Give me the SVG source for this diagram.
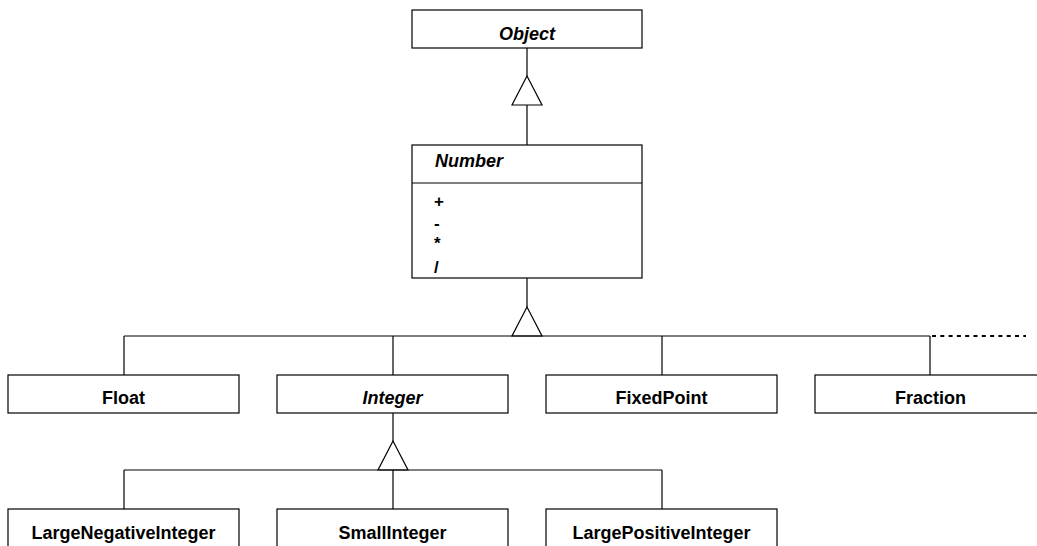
<svg xmlns="http://www.w3.org/2000/svg" width="1037" height="546" viewBox="0 0 1037 546">
<style>
.box{fill:#fff;stroke:#000;stroke-width:1.2}
.ln{fill:none;stroke:#000;stroke-width:1.2}
.dot{fill:none;stroke:#000;stroke-width:2;stroke-dasharray:4,4.3}
.tri{fill:#fff;stroke:#000;stroke-width:1.2}
.t{font-family:"Liberation Sans",Arial,sans-serif;font-size:18px;font-weight:bold;fill:#000;text-anchor:middle}
.i{font-style:italic}
.op{font-family:"Liberation Sans",Arial,sans-serif;font-size:17px;font-weight:bold;fill:#000}
</style>
<rect width="1037" height="546" fill="#fff"/>
<g id="connectors">
<line class="ln" x1="527" y1="48" x2="527" y2="76"/>
<line class="ln" x1="527" y1="105" x2="527" y2="145"/>
<polygon class="tri" points="527,76 512,105 542,105"/>
<line class="ln" x1="527" y1="278" x2="527" y2="307"/>
<polygon class="tri" points="527,307 512,336 542,336"/>
<line class="ln" x1="124" y1="336" x2="930" y2="336"/>
<line class="dot" x1="932" y1="336" x2="1026" y2="336"/>
<line class="ln" x1="124" y1="336" x2="124" y2="375"/>
<line class="ln" x1="393" y1="336" x2="393" y2="375"/>
<line class="ln" x1="662" y1="336" x2="662" y2="375"/>
<line class="ln" x1="930" y1="336" x2="930" y2="375"/>
<line class="ln" x1="393" y1="413" x2="393" y2="441"/>
<polygon class="tri" points="393,441 378,470 408,470"/>
<line class="ln" x1="124" y1="470" x2="662" y2="470"/>
<line class="ln" x1="124" y1="470" x2="124" y2="509"/>
<line class="ln" x1="393" y1="470" x2="393" y2="509"/>
<line class="ln" x1="662" y1="470" x2="662" y2="509"/>
</g>
<g id="object">
<rect class="box" x="412" y="10" width="230" height="38"/>
<text class="t i" x="527" y="40">Object</text>
</g>
<g id="number">
<rect class="box" x="412" y="145" width="230" height="133"/>
<line class="ln" x1="412" y1="183" x2="642" y2="183"/>
<text class="t i" x="435" y="167" style="text-anchor:start">Number</text>
<text class="op" x="434" y="207">+</text>
<text class="op" x="434" y="229">-</text>
<text class="op" x="434" y="249">*</text>
<text class="op" x="434" y="273">/</text>
</g>
<g id="float">
<rect class="box" x="8" y="375" width="231" height="38"/>
<text class="t" x="123.5" y="404">Float</text>
</g>
<g id="integer">
<rect class="box" x="277" y="375" width="231" height="38"/>
<text class="t i" x="392.5" y="404">Integer</text>
</g>
<g id="fixedpoint">
<rect class="box" x="546" y="375" width="231" height="38"/>
<text class="t" x="661.5" y="404">FixedPoint</text>
</g>
<g id="fraction">
<rect class="box" x="815" y="375" width="231" height="38"/>
<text class="t" x="930.5" y="404">Fraction</text>
</g>
<g id="largenegativeinteger">
<rect class="box" x="8" y="509" width="231" height="40"/>
<text class="t" x="123.5" y="539">LargeNegativeInteger</text>
</g>
<g id="smallinteger">
<rect class="box" x="277" y="509" width="231" height="40"/>
<text class="t" x="392.5" y="539">SmallInteger</text>
</g>
<g id="largepositiveinteger">
<rect class="box" x="546" y="509" width="231" height="40"/>
<text class="t" x="661.5" y="539">LargePositiveInteger</text>
</g>
</svg>
